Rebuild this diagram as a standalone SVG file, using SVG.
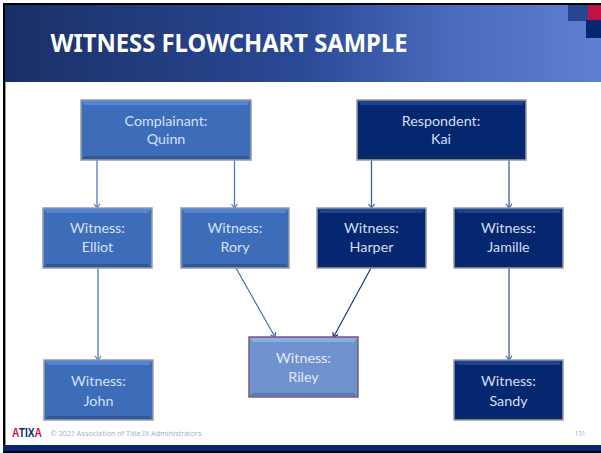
<svg xmlns="http://www.w3.org/2000/svg" width="601" height="453" viewBox="0 0 601 453">
<defs>
<linearGradient id="hdr" x1="0" y1="0" x2="1" y2="0"><stop offset="0" stop-color="#1a2f66"/><stop offset="0.5" stop-color="#2b4a96"/><stop offset="0.75" stop-color="#4a6bbd"/><stop offset="1" stop-color="#5e7fd2"/></linearGradient>
<linearGradient id="logo" gradientUnits="userSpaceOnUse" x1="12" y1="0" x2="42" y2="0"><stop offset="0.27" stop-color="#c01345"/><stop offset="0.27" stop-color="#0c2a70"/><stop offset="0.73" stop-color="#0c2a70"/><stop offset="0.73" stop-color="#c01345"/></linearGradient>
<marker id="ah" markerWidth="10" markerHeight="10" refX="7" refY="5" orient="auto" markerUnits="userSpaceOnUse"><path d="M3 2L7 5L3 8" fill="none" stroke="context-stroke" stroke-width="1.200"/></marker>
</defs>
<style>
text{font-family:"Lato","Noto Sans",sans-serif;text-anchor:middle}
.lbl{font-size:14.300px}
.c .box{fill:#3d6cb9;stroke:#959ca6}
.r .box{fill:#04276f;stroke:#959ca6}
.m .box{fill:#6f92cf;stroke:#7d5a78}
.box{stroke-width:1.500}
.c .top{fill:#5585d6}.c .bot{fill:#2f5796}
.r .top{fill:#1f4291}.r .bot{fill:#0a2a63}
.m .top{fill:#8aaee6}.m .bot{fill:#587bb2}
.c text{fill:#d5e2f7}.r text{fill:#d6dff0}.m text{fill:#e3ebf8}
.l1{fill:none;stroke:#5178c6;stroke-width:1.300;marker-end:url(#ah)}
.l2{fill:none;stroke:#3f5c9e;stroke-width:1.300;marker-end:url(#ah)}
.l3{fill:none;stroke:#3a62b0;stroke-width:1.100;marker-end:url(#ah)}
.l4{fill:none;stroke:#0f2c6e;stroke-width:1.100;marker-end:url(#ah)}
</style>
<rect width="601" height="453" fill="#fff"/>
<rect x="3" y="3" width="598" height="450" fill="#000"/>
<rect x="6" y="5" width="595" height="446" fill="#fff"/>
<rect x="3" y="82" width="2" height="369" fill="#000"/>
<rect x="5" y="82" width="1" height="363" fill="#999"/>
<rect x="5" y="5" width="596" height="77" fill="url(#hdr)"/>
<rect x="568" y="5" width="20" height="16" fill="#27448f"/>
<rect x="588" y="5" width="13" height="15" fill="#c01345"/>
<rect x="586" y="20" width="15" height="18" fill="#04276f"/>
<rect x="3" y="445" width="598" height="6" fill="#04276f"/>
<text x="229" y="52" font-size="25" font-weight="700" fill="#fff" textLength="357" lengthAdjust="spacingAndGlyphs" style="font-family:'Noto Sans',sans-serif">WITNESS FLOWCHART SAMPLE</text>
<g id="connectors">
<path class="l1" d="M97 160V208"/>
<path class="l1" d="M234.500 160V208"/>
<path class="l2" d="M371.500 160V208"/>
<path class="l2" d="M509 160V208"/>
<path class="l1" d="M98 268V360"/>
<path class="l3" d="M236 268L275 337"/>
<path class="l4" d="M371 268L333.500 337"/>
<path class="l2" d="M509 268V360"/>
</g>
<g id="complainant" class="c"><rect class="box" x="81" y="100" width="170" height="60"/><path class="top" d="M82 101H250L247 105H85Z"/><path class="bot" d="M82 159H250L247 156H85Z"/><text class="lbl" x="166" y="126">Complainant:</text><text class="lbl" x="166" y="144">Quinn</text></g>
<g id="respondent" class="r"><rect class="box" x="357" y="100" width="169" height="60"/><path class="top" d="M358 101H525L522 105H361Z"/><path class="bot" d="M358 159H525L522 156H361Z"/><text class="lbl" x="441" y="126">Respondent:</text><text class="lbl" x="441" y="144">Kai</text></g>
<g id="elliot" class="c"><rect class="box" x="43" y="208" width="109" height="60"/><path class="top" d="M44 209H151L148 213H47Z"/><path class="bot" d="M44 267H151L148 264H47Z"/><text class="lbl" x="97.500" y="233">Witness:</text><text class="lbl" x="97.500" y="252">Elliot</text></g>
<g id="rory" class="c"><rect class="box" x="181" y="208" width="108" height="60"/><path class="top" d="M182 209H288L285 213H185Z"/><path class="bot" d="M182 267H288L285 264H185Z"/><text class="lbl" x="235" y="233">Witness:</text><text class="lbl" x="235" y="252">Rory</text></g>
<g id="harper" class="r"><rect class="box" x="317" y="208" width="109" height="60"/><path class="top" d="M318 209H425L422 213H321Z"/><path class="bot" d="M318 267H425L422 264H321Z"/><text class="lbl" x="371.500" y="233">Witness:</text><text class="lbl" x="371.500" y="252">Harper</text></g>
<g id="jamille" class="r"><rect class="box" x="454" y="208" width="109" height="60"/><path class="top" d="M455 209H562L559 213H458Z"/><path class="bot" d="M455 267H562L559 264H458Z"/><text class="lbl" x="508.500" y="233">Witness:</text><text class="lbl" x="508.500" y="252">Jamille</text></g>
<g id="john" class="c"><rect class="box" x="44" y="360" width="109" height="60"/><path class="top" d="M45 361H152L149 365H48Z"/><path class="bot" d="M45 419H152L149 416H48Z"/><text class="lbl" x="98.500" y="386">Witness:</text><text class="lbl" x="98.500" y="406">John</text></g>
<g id="riley" class="m"><rect class="box" x="249" y="337" width="109" height="60"/><path class="top" d="M250 338H357L354 342H253Z"/><path class="bot" d="M250 396H357L354 393H253Z"/><text class="lbl" x="303.500" y="363">Witness:</text><text class="lbl" x="303.500" y="382">Riley</text></g>
<g id="sandy" class="r"><rect class="box" x="454" y="360" width="109" height="60"/><path class="top" d="M455 361H562L559 365H458Z"/><path class="bot" d="M455 419H562L559 416H458Z"/><text class="lbl" x="508.500" y="386">Witness:</text><text class="lbl" x="508.500" y="406">Sandy</text></g>
<g id="footer">
<text x="27" y="437" font-size="12.500" font-weight="700" fill="url(#logo)" textLength="30" lengthAdjust="spacingAndGlyphs" style="font-family:'Liberation Sans',sans-serif">ATIXA</text>
<text x="126" y="436" font-size="7" fill="#a9afbd" textLength="151" lengthAdjust="spacingAndGlyphs" style="font-family:'Noto Sans',sans-serif">© 2021 Association of Title IX Administrators</text>
<text x="580" y="436" font-size="6.500" fill="#a9afbd" style="font-family:'Noto Sans',sans-serif">131</text>
</g>
</svg>
